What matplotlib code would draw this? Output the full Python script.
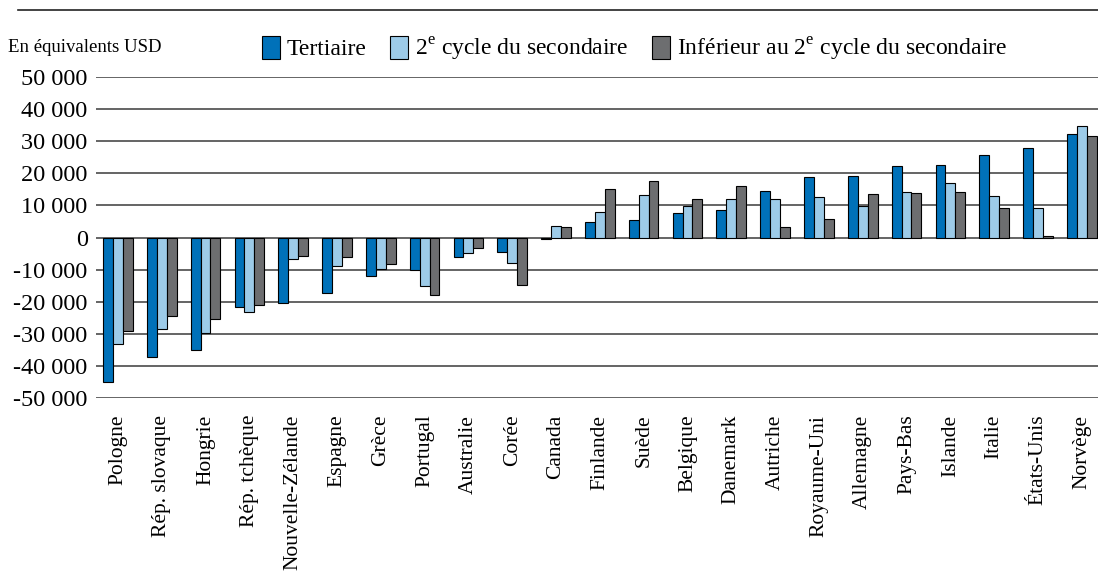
import numpy as np
import matplotlib.pyplot as plt
from matplotlib.patches import Patch
from matplotlib.ticker import FuncFormatter

pays = ['Pologne', 'Rép. slovaque', 'Hongrie', 'Rép. tchèque', 'Nouvelle-Zélande',
        'Espagne', 'Grèce', 'Portugal', 'Australie', 'Corée', 'Canada', 'Finlande',
        'Suède', 'Belgique', 'Danemark', 'Autriche', 'Royaume-Uni', 'Allemagne',
        'Pays-Bas', 'Islande', 'Italie', 'États-Unis', 'Norvège']

# en équivalents USD
tertiaire = [-45100, -37300, -35100, -21500, -20500, -17200, -12100, -10200, -6000, -4600,
             -400, 4700, 5600, 7600, 8700, 14500, 19000, 19200, 22200, 22500, 25800, 27900, 32300]
second_cycle = [-33300, -28600, -29700, -23100, -6800, -9000, -9700, -15200, -4900, -8000,
                3700, 7800, 13200, 9900, 12100, 12000, 12500, 9800, 14100, 17000, 13000, 9200, 34600]
inferieur = [-29200, -24600, -25500, -20900, -5900, -6200, -8300, -17800, -3400, -14800,
             3300, 15000, 17500, 12000, 16100, 3200, 5900, 13700, 14000, 14300, 9200, 600, 31700]

series = [
    ('Tertiaire', tertiaire, '#0071b9'),
    ('2$^{\\mathregular{e}}$ cycle du secondaire', second_cycle, '#9dcbe8'),
    ('Inférieur au 2$^{\\mathregular{e}}$ cycle du secondaire', inferieur, '#6d6e70'),
]

serif = ['Liberation Serif', 'DejaVu Serif']
plt.rcParams['font.family'] = serif
plt.rcParams['mathtext.fontset'] = 'custom'
plt.rcParams['mathtext.rm'] = 'Liberation Serif'

fig = plt.figure(figsize=(10.98, 5.76), dpi=100)
ax = fig.add_axes([96 / 1098, 1 - 398 / 576, 1 - 96 / 1098, 321 / 576])

x = np.arange(len(pays))
w = 0.225
for i, (nom, vals, col) in enumerate(series):
    ax.bar(x + (i - 1) * w, vals, width=w, color=col, edgecolor='black',
           linewidth=0.8, zorder=3)

ax.set_ylim(-50000, 50000)
ax.set_xlim(-0.5, 22.37)
ax.set_yticks(np.arange(-50000, 50001, 10000))
ax.yaxis.set_major_formatter(FuncFormatter(lambda v, p: f'{int(v):,}'.replace(',', ' ')))
ax.set_axisbelow(True)
ax.grid(axis='y', color='#3a3a3a', linewidth=1.1)
for s in ax.spines.values():
    s.set_visible(False)
ax.tick_params(axis='y', length=0, pad=6, labelsize=17.5)
ax.tick_params(axis='x', length=0, pad=12, labelsize=15.5)
ax.set_xticks(x)
ax.set_xticklabels(pays, rotation=90, va='top', ha='center')

# ligne de séparation en haut
fig.add_artist(plt.Line2D([18 / 1098, 1], [1 - 10 / 576, 1 - 10 / 576],
                          color='#222222', linewidth=1.2))

fig.text(8 / 1098, 1 - 47 / 576, 'En équivalents USD', fontsize=13.5,
         family=serif, va='center', ha='left')

handles = [Patch(facecolor=col, edgecolor='black', linewidth=0.8, label=nom)
           for nom, vals, col in series]
fig.legend(handles=handles, loc='center', bbox_to_anchor=(0.578, 1 - 49 / 576),
           ncol=3, frameon=False, prop={'family': serif, 'size': 17},
           handlelength=0.75, handleheight=1.1,
           handletextpad=0.3, columnspacing=1.0, borderaxespad=0)

fig.savefig('out.png', dpi=100)
